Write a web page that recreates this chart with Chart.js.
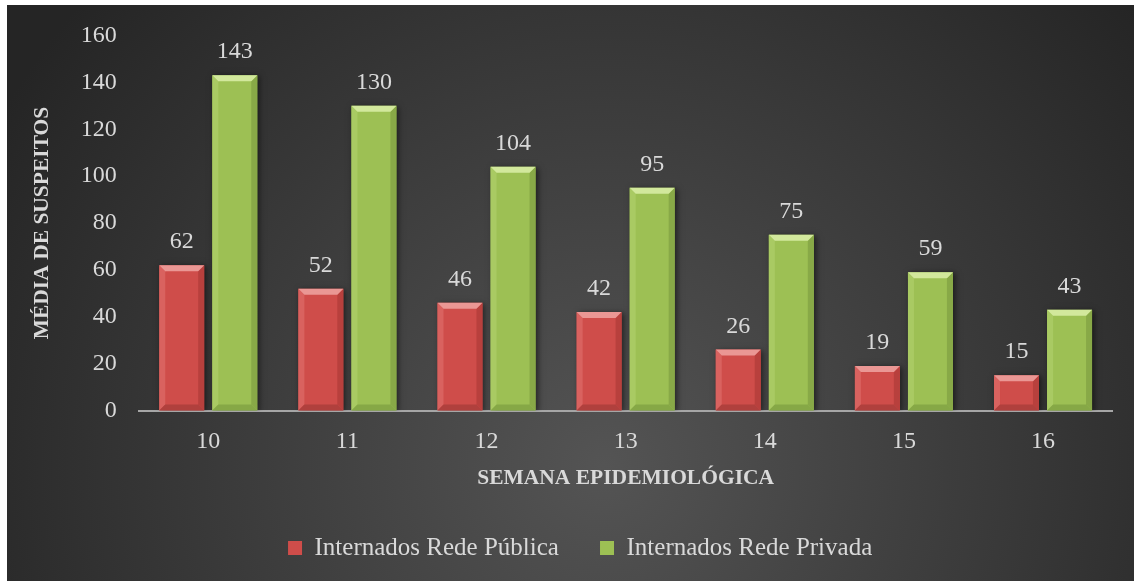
<!DOCTYPE html>
<html>
<head>
<meta charset="utf-8">
<script src="https://cdn.jsdelivr.net/npm/chart.js@4.4.0/dist/chart.umd.min.js"></script>
<style>
  html, body { margin: 0; padding: 0; background: #ffffff; }
  #wrap { position: absolute; left: 7px; top: 5px; width: 1127px; height: 576px; }
</style>
</head>
<body>
<div id="wrap"><canvas id="myChart"></canvas></div>
<script>
// weeks on the x axis
const semanas = ["10", "11", "12", "13", "14", "15", "16"];
// average suspected cases, hospitalised
const redePublica = [62, 52, 46, 42, 26, 19, 15];
const redePrivada = [143, 130, 104, 95, 75, 59, 43];
const seriesNames = ["Internados Rede Pública", "Internados Rede Privada"];

const textColor = '#d9d9d9';
const serif = "'Liberation Serif', 'Times New Roman', serif";

// bevel colours per dataset: face, top, left, right, bottom
const bevels = [
    { face: '#cf4d4a', top: '#ea9794', left: '#d9625f', right: '#b8403d', bottom: '#b0403d' },
    { face: '#9dc054', top: '#d2e89c', left: '#a9ca63', right: '#88a947', bottom: '#86a846' }
];

const backgroundPlugin = {
    id: 'bg',
    beforeDraw(chart) {
        const ctx = chart.ctx;
        const w = chart.width, h = chart.height;
        const g = ctx.createRadialGradient(w * 0.53, h * 0.8, 0, w * 0.53, h * 0.8, w * 0.62);
        g.addColorStop(0, '#545454');
        g.addColorStop(1, '#252525');
        ctx.save();
        ctx.fillStyle = g;
        ctx.fillRect(0, 0, w, h);
        ctx.restore();
    }
};

const barPlugin = {
    id: 'bevelAndLabels',
    beforeDatasetsDraw(chart) {
        const ctx = chart.ctx;
        ctx.save();
        ctx.shadowColor = 'rgba(0,0,0,0.55)';
        ctx.shadowBlur = 6;
        ctx.shadowOffsetX = 2;
        ctx.shadowOffsetY = 1;
    },
    afterDatasetsDraw(chart) {
        const ctx = chart.ctx;
        ctx.restore();
        ctx.save();
        chart.data.datasets.forEach((ds, di) => {
            const meta = chart.getDatasetMeta(di);
            const c = bevels[di];
            meta.data.forEach((bar, i) => {
                const p = bar.getProps(['x', 'y', 'base', 'width'], true);
                const l = p.x - p.width / 2, r = p.x + p.width / 2;
                const t = p.y, b = p.base;
                const s = Math.min(6, (b - t) / 2);
                ctx.fillStyle = c.left;
                ctx.beginPath();
                ctx.moveTo(l, t); ctx.lineTo(l + s, t + s); ctx.lineTo(l + s, b - s); ctx.lineTo(l, b);
                ctx.fill();
                ctx.fillStyle = c.right;
                ctx.beginPath();
                ctx.moveTo(r, t); ctx.lineTo(r - s, t + s); ctx.lineTo(r - s, b - s); ctx.lineTo(r, b);
                ctx.fill();
                ctx.fillStyle = c.bottom;
                ctx.beginPath();
                ctx.moveTo(l, b); ctx.lineTo(l + s, b - s); ctx.lineTo(r - s, b - s); ctx.lineTo(r, b);
                ctx.fill();
                ctx.fillStyle = c.top;
                ctx.beginPath();
                ctx.moveTo(l, t); ctx.lineTo(r, t); ctx.lineTo(r - s, t + s); ctx.lineTo(l + s, t + s);
                ctx.fill();

                // value label
                ctx.fillStyle = textColor;
                ctx.font = "24px " + serif;
                ctx.textAlign = 'center';
                ctx.textBaseline = 'alphabetic';
                ctx.fillText(ds.data[i], p.x, t - 17);
            });
        });
        ctx.restore();
    }
};

const ctx = document.getElementById('myChart').getContext('2d');
const chart = new Chart(ctx, {
    type: 'bar',
    data: {
        labels: semanas,
        datasets: [{
            label: seriesNames[0],
            data: redePublica,
            backgroundColor: bevels[0].face,
            borderWidth: 0
        }, {
            label: seriesNames[1],
            data: redePrivada,
            backgroundColor: bevels[1].face,
            borderWidth: 0
        }]
    },
    options: {
        responsive: true,
        maintainAspectRatio: false,
        animation: false,
        categoryPercentage: 0.763,
        barPercentage: 0.847,
        layout: {
            // left padding nudges the centred legend to where it sits in the original
            padding: { top: 30.5, right: 21.4, bottom: 10.5, left: 40.7 }
        },
        plugins: {
            legend: {
                position: 'bottom',
                labels: {
                    color: textColor,
                    font: { family: serif, size: 25 },
                    boxWidth: 14,
                    boxHeight: 14,
                    padding: 41.1
                }
            },
            tooltip: { enabled: false }
        },
        scales: {
            x: {
                grid: { display: false, drawTicks: false },
                border: { color: '#a6a6a6', width: 2 },
                ticks: {
                    color: textColor,
                    font: { family: serif, size: 24 },
                    padding: 17
                },
                title: {
                    display: true,
                    text: 'SEMANA EPIDEMIOLÓGICA',
                    color: textColor,
                    font: { family: serif, size: 21.5, weight: 'bold' },
                    padding: { top: 0, bottom: 3.5 }
                },
                afterFit(scale) { scale.height = 83.9; }
            },
            y: {
                min: 0,
                max: 160,
                // invisible tick marks hold the labels off the axis without adding top padding
                grid: { display: false, drawTicks: true, tickLength: 22, tickColor: 'rgba(0,0,0,0)' },
                border: { display: false },
                ticks: {
                    stepSize: 20,
                    color: textColor,
                    font: { family: serif, size: 24 },
                    padding: 0
                },
                title: {
                    display: true,
                    text: 'MÉDIA DE SUSPEITOS',
                    color: textColor,
                    font: { family: serif, size: 21.5, weight: 'bold' },
                    padding: { top: -18.6, bottom: 0 }
                },
                afterFit(scale) { scale.width = 91; }
            }
        }
    },
    plugins: [backgroundPlugin, barPlugin]
});
</script>
</body>
</html>
